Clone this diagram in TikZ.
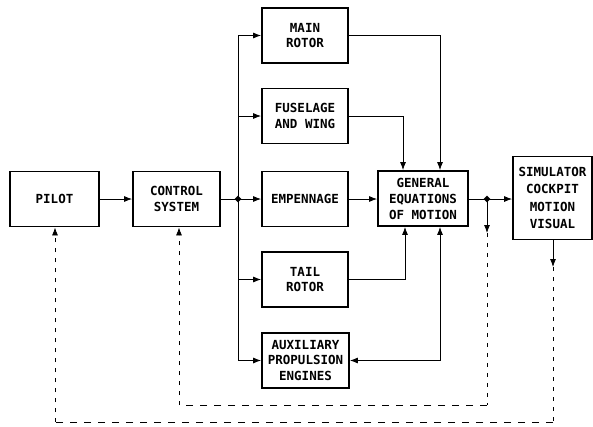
\documentclass[tikz,border=0pt]{standalone}
\usepackage{fontspec}
\setmonofont{DejaVu Sans Mono}
\usetikzlibrary{arrows.meta,shapes.geometric}
\begin{document}
\begin{tikzpicture}[x=1pt,y=-1pt,
  blk/.style={draw, line width=1.8pt, align=center, inner sep=0pt,
    minimum width=86pt, minimum height=55pt,
    font=\ttfamily\bfseries\fontsize{12.5}{15.5}\selectfont},
  conn/.style={line width=0.8pt},
  arr/.style={-{Latex[length=8pt,width=6pt]}},
  darr/.style={{Latex[length=8pt,width=6pt]}-{Latex[length=8pt,width=6pt]}},
  fb/.style={line width=0.8pt, dash pattern=on 4pt off 6pt},
  fbh/.style={line width=0.8pt, dash pattern=on 7pt off 7pt},
  jdot/.style={diamond, fill, inner sep=0pt, minimum size=7pt}]
\useasboundingbox (0,0) rectangle (593,426);
\fill[white] (0,0) rectangle (593,426);

\node[blk, minimum width=89pt] (pilot) at (54.5,199) {PILOT};
\node[blk, minimum width=87pt] (control) at (176.5,199) {CONTROL\\SYSTEM};
\node[blk] (main) at (305,35.5) {MAIN\\ROTOR};
\node[blk] (fus) at (305,116) {FUSELAGE\\AND WING};
\node[blk] (emp) at (305,199) {EMPENNAGE};
\node[blk] (tail) at (305,279.5) {TAIL\\ROTOR};
\node[blk, minimum width=87pt] (aux) at (305.5,360.5) {AUXILIARY\\PROPULSION\\ENGINES};
\node[blk, minimum width=90pt, font=\ttfamily\bfseries\fontsize{12.5}{16}\selectfont] (gen) at (423,198.5) {GENERAL\\EQUATIONS\\OF MOTION};
\node[blk, minimum width=79pt, minimum height=83pt, font=\ttfamily\bfseries\fontsize{12.5}{17.5}\selectfont] (sim) at (552.5,198) {SIMULATOR\\COCKPIT\\MOTION\\VISUAL};

% forward path
\draw[conn,arr] (pilot.east) -- (control.west);
\coordinate (bus) at (238,199);
\draw[conn] (control.east) -- (bus);
\draw[conn,arr] (bus) -- (emp.west);
\draw[conn,arr] (bus) |- (main.west);
\draw[conn,arr] (bus) |- (fus.west);
\draw[conn,arr] (bus) |- (tail.west);
\draw[conn,arr] (bus) |- (aux.west);
\node[jdot] (busdot) at (bus) {};

\draw[conn,arr] (main.east) -| ([xshift=17pt]gen.north);
\draw[conn,arr] (fus.east) -| ([xshift=-20pt]gen.north);
\draw[conn,arr] (emp.east) -- (gen.west |- emp.east);
\draw[conn,arr] (tail.east) -| ([xshift=-18pt]gen.south);
\draw[conn,darr] (aux.east) -| ([xshift=17pt]gen.south);

\coordinate (out) at (487,199);
\draw[conn] (gen.east |- out) -- (out);
\draw[conn,arr] (out) -- (sim.west |- out);
\node[jdot] (outdot) at (out) {};

% feedback to control system
\coordinate (f1a) at (487,233);
\coordinate (f1b) at (487,405);
\coordinate (f1c) at (179,405);
\draw[conn,arr] (out) -- (f1a);
\draw[fb] (f1a) -- (f1b);
\draw[fbh] (f1b) -- (f1c);
\draw[fb,arr] (f1c) -- (control.south -| f1c);

% feedback to pilot
\coordinate (f2a) at (553,267);
\coordinate (f2b) at (553,422);
\coordinate (f2c) at (55,422);
\draw[conn,arr] (sim.south -| f2a) -- (f2a);
\draw[fb] (f2a) -- (f2b);
\draw[fbh] (f2b) -- (f2c);
\draw[fb,arr] (f2c) -- (pilot.south -| f2c);
\end{tikzpicture}
\end{document}
